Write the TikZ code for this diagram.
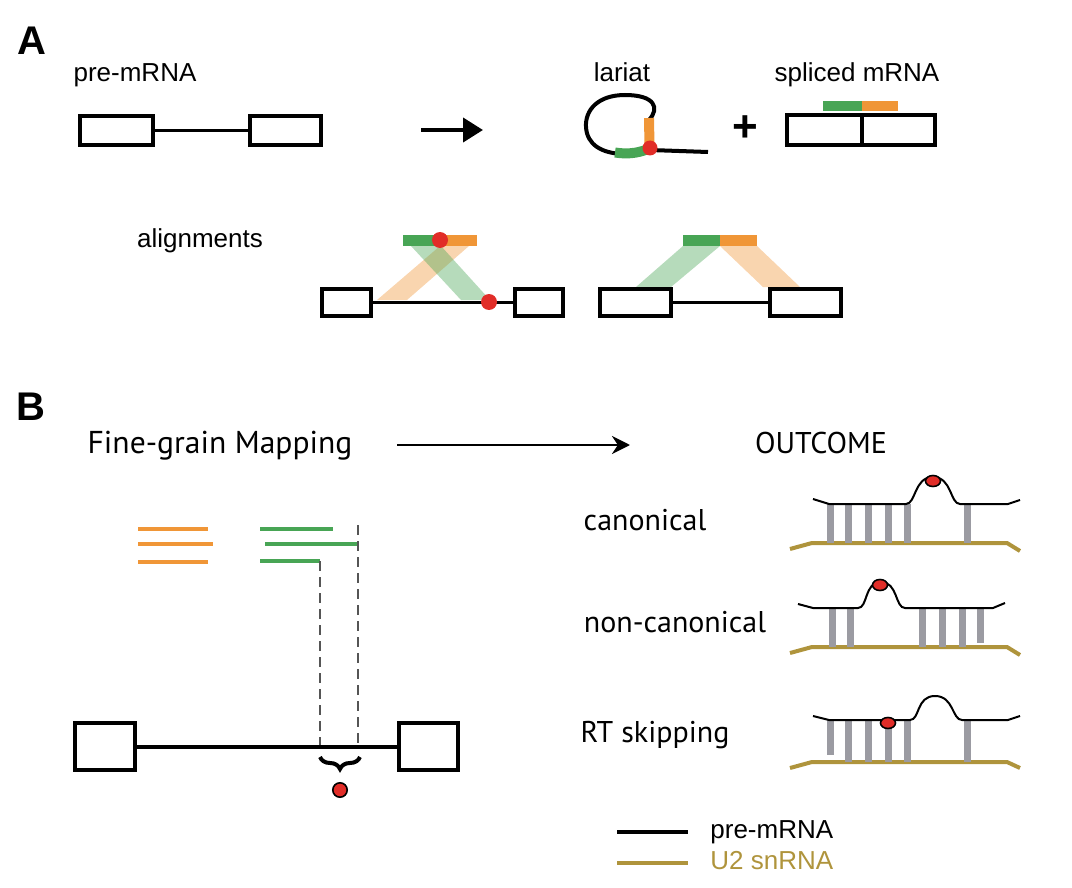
\documentclass[tikz,border=0pt]{standalone}
\usepackage{fontspec}
\newfontfamily\helvfont{Liberation Sans}
\newfontfamily\myrfont{PT Sans}
\usetikzlibrary{arrows.meta}
\usetikzlibrary{decorations.pathreplacing}
\tikzset{>=latex}
\definecolor{exongreen}{RGB}{72,165,85}
\definecolor{exonorange}{RGB}{240,150,55}
\definecolor{dotred}{RGB}{225,45,40}
\definecolor{snrnagold}{RGB}{175,148,60}
\definecolor{pairgray}{RGB}{155,155,162}
\definecolor{dashgray}{RGB}{85,85,85}
\tikzstyle{exon}=[draw=black,line width=2pt,inner sep=0pt]
\tikzstyle{intron}=[draw=black,line width=1.7pt]
\tikzstyle{paneltag}=[font=\helvfont\bfseries\fontsize{20}{22}\selectfont,inner sep=0pt]
\tikzstyle{helvtext}=[font=\helvfont\fontsize{13}{15}\selectfont,inner sep=0pt]
\tikzstyle{myrtext}=[font=\myrfont\fontsize{15}{18}\selectfont,inner sep=0pt]
\tikzstyle{band}=[fill opacity=0.4]
\tikzstyle{readline}=[line width=2pt]
\tikzstyle{dashline}=[draw=dashgray,line width=1.3pt,dash pattern=on 5pt off 3pt]
\tikzstyle{strand}=[draw=black,line width=1pt]
\tikzstyle{u2line}=[draw=snrnagold,line width=2pt]
\tikzstyle{pairbar}=[draw=pairgray,line width=3.5pt]
\tikzstyle{bpdot}=[fill=dotred,draw=black,line width=0.8pt]

\begin{document}
\begin{tikzpicture}[x=0.5pt,y=-0.5pt]
    \useasboundingbox (0,0) rectangle (1072,888);

    % A: splicing
    \node[paneltag,anchor=base] (tagA) at (32,55) {A};
    \node[helvtext,anchor=base] (preA) at (135,82) {pre-mRNA};
    \node[exon,minimum width=36.5pt,minimum height=14.5pt] (exA1) at (116.5,130.5) {};
    \node[exon,minimum width=35.5pt,minimum height=14.5pt] (exA2) at (285.5,130.5) {};
    \draw[intron] (exA1) -- (exA2);
    \coordinate (arrA1) at (421,130);
    \coordinate (arrA2) at (483,130);
    \draw[line width=2pt,-{Triangle[length=10pt,width=12pt]}] (arrA1) -- (arrA2);

    \node[helvtext,anchor=base] (lariat) at (622,82) {lariat};
    \draw[line width=2pt] (650,148) -- (649,120) .. controls (660,108) and (655,95) .. (625,95)
        .. controls (598,95) and (585,110) .. (586,127) .. controls (587,145) and (602,153) .. (622,154)
        .. controls (635,154) and (645,151) .. (650,148);
    \draw[line width=2pt] (650,150) -- (708,152);
    \draw[exongreen,line width=5pt] (615,152.5) .. controls (630,155) and (642,152) .. (650,148);
    \draw[exonorange,line width=5pt] (649.5,146) -- (649,118);
    \fill[dotred] (650,148) circle (3.75pt);

    \node[anchor=center,inner sep=0pt] (plus) at (745,129) {\helvfont\bfseries\fontsize{22}{22}\selectfont +};

    \node[helvtext,anchor=base] (splA) at (857,82) {spliced mRNA};
    \fill[exongreen] (823,101) rectangle (862,111);
    \fill[exonorange] (862,101) rectangle (898,111);
    \node[exon,minimum width=37.5pt,minimum height=15pt] (spl1) at (824.5,130) {};
    \node[exon,minimum width=36.5pt,minimum height=15pt] (spl2) at (898.5,130) {};

    % alignments
    \node[helvtext,anchor=base] (align) at (200,248) {alignments};
    \fill[exonorange,band] (377,300) -- (407,300) -- (469,246) -- (440,246) -- cycle;
    \fill[exongreen,band] (411,246) -- (441,246) -- (490,300) -- (461,300) -- cycle;
    \node[exon,minimum width=24.5pt,minimum height=13.5pt] (alL1) at (346.5,302.5) {};
    \node[exon,minimum width=24pt,minimum height=13.5pt] (alL2) at (539,302.5) {};
    \draw[intron] (alL1) -- (alL2);
    \fill[exongreen] (403,235) rectangle (441,246);
    \fill[exonorange] (441,235) rectangle (477,246);
    \fill[dotred] (440,240) circle (4pt);
    \fill[dotred] (489,302) circle (4pt);

    \fill[exongreen,band] (636,287) -- (671,287) -- (720,246) -- (683,246) -- cycle;
    \fill[exonorange,band] (720,246) -- (757,246) -- (800,287) -- (763,287) -- cycle;
    \node[exon,minimum width=35.5pt,minimum height=13.5pt] (alR1) at (635.5,302.5) {};
    \node[exon,minimum width=35.5pt,minimum height=13.5pt] (alR2) at (805.5,302.5) {};
    \draw[intron] (alR1) -- (alR2);
    \fill[exongreen] (683,235) rectangle (720,246);
    \fill[exonorange] (720,235) rectangle (757,246);

    % B: fine-grain mapping
    \node[paneltag,anchor=base] (tagB) at (31,420) {B};
    \node[myrtext,anchor=base,font=\myrfont\fontsize{15.8}{18}\selectfont] (fgm) at (220,453) {Fine-grain Mapping};
    \node[myrtext,anchor=base] (outc) at (821,453) {OUTCOME};
    \coordinate (arrB1) at (397,445);
    \coordinate (arrB2) at (630,445);
    \draw[line width=1.3pt,-{Stealth[length=9pt,width=9pt]}] (arrB1) -- (arrB2);

    \draw[readline,exonorange] (138,529) -- (208,529);
    \draw[readline,exonorange] (138,544) -- (213,544);
    \draw[readline,exonorange] (138,562) -- (208,562);
    \draw[readline,exongreen] (260,529) -- (333,529);
    \draw[readline,exongreen] (265,544) -- (358,544);
    \draw[readline,exongreen] (260,561) -- (320,561);
    \draw[dashline] (320,561) -- (320,746);
    \draw[dashline] (358,525) -- (358,746);

    \node[exon,minimum width=30pt,minimum height=23.5pt] (exB1) at (105,746.5) {};
    \node[exon,minimum width=29.5pt,minimum height=23.5pt] (exB2) at (428.5,746.5) {};
    \draw[line width=2pt] (exB1) -- (exB2);
    \draw[line width=2pt,decorate,decoration={brace,mirror,amplitude=6pt}] (320,757) -- (360,757);
    \fill[bpdot] (340,790) circle (3.6pt);

    % outcomes
    \node[myrtext,anchor=base] (canon) at (645,530) {canonical};
    \draw[u2line] (790,549) -- (812,543) -- (1007,543) -- (1020,551);
    \foreach \x in {830,848,868,888,907,967}
        \draw[pairbar] (\x,504) -- (\x,543);
    \draw[strand] (813,499) -- (829,504) -- (906,504) .. controls (916,504) and (914,477) .. (933,477)
        .. controls (952,477) and (950,504) .. (960,504) -- (1008,504) -- (1020,500);
    \draw[bpdot] (933,481) ellipse [x radius=3.75pt,y radius=2.75pt];

    \node[myrtext,anchor=base] (noncanon) at (675,632) {non-canonical};
    \draw[u2line] (790,653) -- (812,647) -- (1007,647) -- (1020,655);
    \foreach \x in {832,850,922,942,962}
        \draw[pairbar] (\x,608) -- (\x,647);
    \draw[pairbar] (980,608) -- (980,643);
    \draw[strand] (798,604) -- (813,608) -- (858,608) .. controls (868,608) and (864,582) .. (881,582)
        .. controls (898,582) and (895,608) .. (905,608) -- (993,608) -- (1005,603);
    \draw[bpdot] (880,585) ellipse [x radius=3.75pt,y radius=2.75pt];

    \node[myrtext,anchor=base] (rtskip) at (655,742) {RT skipping};
    \draw[u2line] (790,768) -- (812,762) -- (1007,762) -- (1020,768);
    \draw[pairbar] (830,720) -- (830,755);
    \foreach \x in {848,868,888,907,967}
        \draw[pairbar] (\x,720) -- (\x,762);
    \draw[strand] (813,716) -- (829,720) -- (910,720) .. controls (920,720) and (916,696) .. (935,696)
        .. controls (954,696) and (952,720) .. (962,720) -- (1008,720) -- (1020,716);
    \draw[bpdot] (888,723) ellipse [x radius=3.75pt,y radius=2.75pt];

    % legend
    \coordinate (legP1) at (617,832);
    \coordinate (legP2) at (688,832);
    \coordinate (legU1) at (617,863);
    \coordinate (legU2) at (688,863);
    \draw[line width=2pt] (legP1) -- (legP2);
    \draw[u2line] (legU1) -- (legU2);
    \node[helvtext,anchor=base west] (legP) at (710,838) {pre-mRNA};
    \node[helvtext,anchor=base west,text=snrnagold] (legU) at (710,869) {U2 snRNA};
\end{tikzpicture}
\end{document}
